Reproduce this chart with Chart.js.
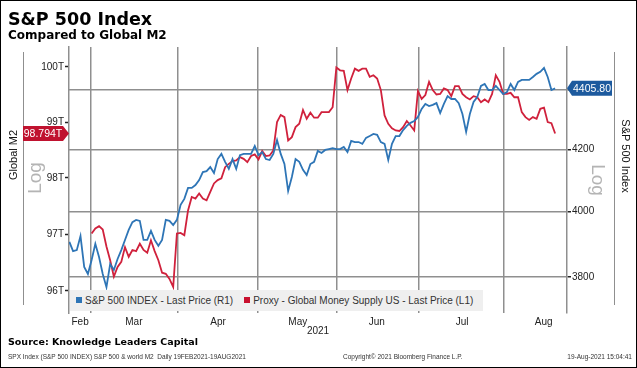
<!DOCTYPE html>
<html>
<head>
<meta charset="utf-8">
<script src="https://cdn.jsdelivr.net/npm/chart.js@4.4.1/dist/chart.umd.min.js"></script>
<style>
  body { margin: 0; background: #fff; }
  #wrap { position: relative; width: 637px; height: 368px; overflow: hidden; font-family: "Liberation Sans", Arial, sans-serif; }
  #frame { position: absolute; left: 0; top: 0; width: 637px; height: 368px; box-sizing: border-box; border: 1px solid #000; pointer-events: none; }
  canvas { position: absolute; left: 0; top: 0; }
  .t { position: absolute; white-space: nowrap; }
  #title { left: 8px; top: 11px; font: bold 17.5px/17.5px "DejaVu Sans", sans-serif; }
  #sub { left: 8px; top: 29px; font: bold 12px/12px "DejaVu Sans", sans-serif; }
  #src { left: 8px; top: 337px; font: bold 9.5px/10px "DejaVu Sans", sans-serif; }
  .foot { top: 353px; font-size: 6.5px; line-height: 7px; color: #333; }
  #year { left: 318px; top: 325px; transform: translateX(-50%); font-size: 10px; line-height: 11px; color: #222; }
  #legend { position: absolute; left: 70px; top: 290px; width: 413px; height: 21px; background: #efefef; font-size: 10px; line-height: 21px; color: #333; }
  #legend span.sq { display: inline-block; width: 6px; height: 6px; margin: 0 3px 0 0; vertical-align: 1px; }
</style>
</head>
<body>
<div id="wrap">
  <canvas id="grafico" width="637" height="368"></canvas>
  <div class="t" id="title">S&amp;P 500 Index</div>
  <div class="t" id="sub">Compared to Global M2</div>
  <div id="legend">
    <span style="margin-left:6px"></span><span class="sq" style="background:#2e75b6"></span>S&amp;P 500 INDEX - Last Price (R1)<span style="margin-left:11px"></span><span class="sq" style="background:#c8102e"></span>Proxy - Global Money Supply US - Last Price (L1)
  </div>
  <div class="t" id="year">2021</div>
  <div class="t" id="src">Source: Knowledge Leaders Capital</div>
  <div class="t foot" style="left:8px">SPX Index (S&amp;P 500 INDEX) S&amp;P 500 &amp; world M2&nbsp;&nbsp;Daily 19FEB2021-19AUG2021</div>
  <div class="t foot" style="left:343px">Copyright© 2021 Bloomberg Finance L.P.</div>
  <div class="t foot" style="right:5px">19-Aug-2021 15:04:41</div>
  <div id="frame"></div>
</div>
<script>
// S&P 500 (eje derecho), un valor por dia habil desde 19-feb-2021
const spxValues = [
  3906, 3878, 3881, 3924, 3830, 3809, 3851, 3900, 3860, 3809,
  3770, 3839, 3821, 3854, 3881, 3912, 3943, 3967, 3974, 3971,
  3912, 3912, 3940, 3912, 3894, 3912, 3974, 3971, 3958, 3974,
  4021, 4040, 4075, 4075, 4084, 4100, 4126, 4129, 4142, 4123,
  4168, 4185, 4159, 4136, 4168, 4136, 4181, 4185, 4185, 4185,
  4211, 4181, 4191, 4168, 4165, 4185, 4231, 4185, 4152, 4065,
  4110, 4168, 4159, 4133, 4116, 4152, 4159, 4195, 4188, 4198,
  4201, 4204, 4201, 4201, 4208, 4191, 4228, 4224, 4224, 4218,
  4238, 4244, 4251, 4248, 4224, 4218, 4165, 4218, 4244, 4244,
  4264, 4278, 4288, 4294, 4308, 4335, 4352, 4345, 4349, 4355,
  4321, 4352, 4379, 4369, 4369, 4355, 4318, 4258, 4318, 4359,
  4376, 4414, 4421, 4400, 4400, 4414, 4400, 4386, 4393, 4421,
  4400, 4428, 4435, 4435, 4435, 4445, 4456, 4463, 4477, 4445,
  4400, 4405.80
];

// Global M2 proxy en billones (eje izquierdo), empieza el 1-mar
const m2Values = [
  null, null, null, null, null, null, 97.01, 97.10, 97.14, 97.08,
  96.78, 96.54, 96.25, 96.42, 96.51, 96.77, 96.60, 96.72, 96.70, 96.83,
  96.72, 96.67, 96.89, 96.70, 96.54, 96.32, 96.30, 96.21, 96.07, 97.01,
  97.02, 96.98, 97.42, 97.66, 97.63, 97.72, 97.63, 97.60, 97.75, 97.90,
  97.96, 97.99, 98.19, 98.25, 98.30, 98.31, 98.37, 98.34, 98.28, 98.39,
  98.42, 98.33, 98.48, 98.39, 98.40, 98.49, 99.00, 99.13, 99.09, 98.67,
  98.73, 98.91, 98.97, 99.22, 99.06, 99.17, 99.08, 99.08, 99.18, 99.18,
  99.18, 99.27, 99.99, 99.94, 99.93, 99.58, 99.79, 99.97, 99.93, 99.97,
  99.97, 99.82, 99.85, 99.79, 99.58, 99.12, 98.97, 98.89, 98.85, 98.84,
  98.91, 99.02, 98.94, 98.85, 99.56, 99.42, 99.49, 99.73, 99.58, 99.50,
  99.51, 99.61, 99.58, 99.47, 99.65, 99.65, 99.51, 99.45, 99.41, 99.47,
  99.45, 99.36, 99.41, 99.36, 99.51, 99.85, 99.73, 99.51, 99.51, 99.53,
  99.45, 99.45, 99.18, 99.09, 99.04, 99.09, 99.06, 99.24, 99.26, 99.00,
  98.98, 98.794
];

// Eje X: meses y donde caen (en dias habiles)
const monthLabels = ['Feb', 'Mar', 'Apr', 'May', 'Jun', 'Jul', 'Aug'];
const monthLabelAt = [2.9, 17.4, 40.1, 61.6, 82.9, 105.9, 127.9];
const monthLineAt = [5.85, 29.1, 50.9, 72.2, 94.1, 117.2];

// Ticks de los ejes
const m2Ticks = [96, 97, 98, 99, 100];
const spxTicks = [3800, 4000, 4200, 4400];

const BLUE = '#2e75b6';
const RED = '#d0213c';
const GRID = '#8f8f8f';

function textoVertical(c, txt, x, y, ang, font, color) {
  c.save();
  c.translate(x, y);
  c.rotate(ang);
  c.font = font;
  c.fillStyle = color;
  c.textAlign = 'center';
  c.textBaseline = 'middle';
  c.fillText(txt, 0, 0);
  c.restore();
}

const decoracion = {
  id: 'decoracion',
  afterDraw(chart) {
    const c = chart.ctx;
    c.save();
    // lineas de los titulos de ejes
    c.strokeStyle = GRID;
    c.lineWidth = 1;
    c.beginPath();
    c.moveTo(23.5, 52); c.lineTo(23.5, 305);
    c.moveTo(614.5, 52); c.lineTo(614.5, 305);
    c.stroke();

    textoVertical(c, 'Global M2', 14, 155, -Math.PI / 2, '11px "Liberation Sans"', '#111');
    textoVertical(c, 'Log', 36, 178, -Math.PI / 2, '19px "Liberation Sans"', '#b4b4b4');
    textoVertical(c, 'S&P 500 Index', 625, 156, Math.PI / 2, '11px "Liberation Sans"', '#111');
    textoVertical(c, 'Log', 597, 180, Math.PI / 2, '19px "Liberation Sans"', '#b4b4b4');

    // banderita roja (ultimo M2)
    const lastM2 = m2Values[m2Values.length - 1];
    const ry = chart.scales.yL.getPixelForValue(lastM2);
    c.fillStyle = '#c0122f';
    c.beginPath();
    c.moveTo(23, ry - 7.5); c.lineTo(63, ry - 7.5); c.lineTo(69, ry);
    c.lineTo(63, ry + 7.5); c.lineTo(23, ry + 7.5); c.closePath();
    c.fill();
    c.fillStyle = '#fff';
    c.font = '10.5px "Liberation Sans"';
    c.textAlign = 'center';
    c.textBaseline = 'middle';
    c.fillText(lastM2.toFixed(3) + 'T', 43, ry + 0.5);

    // banderita azul (ultimo S&P)
    const lastSpx = spxValues[spxValues.length - 1];
    const by = chart.scales.yR.getPixelForValue(lastSpx);
    c.fillStyle = '#1d5a9e';
    c.beginPath();
    c.moveTo(567, by); c.lineTo(572, by - 7.5); c.lineTo(612, by - 7.5);
    c.lineTo(612, by + 7.5); c.lineTo(572, by + 7.5); c.closePath();
    c.fill();
    c.fillStyle = '#fff';
    c.fillText(lastSpx.toFixed(2), 592, by + 0.5);
    c.restore();
  }
};

const tickFont = { family: '"Liberation Sans", Arial, sans-serif', size: 10 };

new Chart(document.getElementById('grafico').getContext('2d'), {
  type: 'line',
  data: {
    datasets: [
      {
        label: 'S&P 500 INDEX - Last Price (R1)',
        data: spxValues.map((v, i) => ({ x: i, y: v })),
        yAxisID: 'yR',
        borderColor: BLUE,
        borderWidth: 1.8,
        pointRadius: 0,
        tension: 0
      },
      {
        label: 'Proxy - Global Money Supply US - Last Price (L1)',
        data: m2Values.map((v, i) => ({ x: i, y: v })),
        yAxisID: 'yL',
        borderColor: RED,
        borderWidth: 1.8,
        pointRadius: 0,
        tension: 0
      }
    ]
  },
  options: {
    responsive: false,
    animation: false,
    devicePixelRatio: 1,
    layout: { padding: { top: 47, left: 0, right: 0, bottom: 0 } },
    plugins: { legend: { display: false }, tooltip: { enabled: false } },
    scales: {
      x: {
        type: 'linear',
        bounds: 'data',
        min: -0.1,
        max: 134.2,
        afterBuildTicks: s => {
          s.ticks = monthLineAt.concat(monthLabelAt).sort((a, b) => a - b).map(v => ({ value: v }));
        },
        afterFit: s => { s.height = 55; },
        grid: {
          color: ctx => (ctx.tick && monthLineAt.includes(ctx.tick.value)) ? GRID : 'rgba(0,0,0,0)',
          lineWidth: 1.5,
          drawTicks: false
        },
        border: { display: false },
        ticks: {
          autoSkip: false,
          maxRotation: 0,
          padding: 3,
          font: tickFont,
          color: '#222',
          callback: v => {
            const k = monthLabelAt.indexOf(v);
            return k >= 0 ? monthLabels[k] : '';
          }
        }
      },
      yL: {
        type: 'logarithmic',
        position: 'left',
        bounds: 'data',
        min: 95.615,
        max: 100.365,
        afterBuildTicks: s => { s.ticks = m2Ticks.map(v => ({ value: v })); },
        afterFit: s => { s.width = 69; },
        grid: { drawOnChartArea: false, tickLength: 4, tickColor: '#222', tickWidth: 1.5 },
        border: { color: GRID, width: 1.5 },
        ticks: { autoSkip: false, padding: 1, font: tickFont, color: '#222', callback: v => v + 'T' }
      },
      yR: {
        type: 'logarithmic',
        position: 'right',
        bounds: 'data',
        min: 3694.3,
        max: 4550.8,
        afterBuildTicks: s => { s.ticks = spxTicks.map(v => ({ value: v })); },
        afterFit: s => { s.width = 70; },
        grid: { color: GRID, lineWidth: 1.5, tickLength: 4, tickColor: '#222', tickWidth: 1.5 },
        border: { color: GRID, width: 1.5 },
        ticks: { autoSkip: false, padding: 1, font: tickFont, color: '#222', callback: v => v === 4400 ? '' : String(v) }
      }
    }
  },
  plugins: [decoracion]
});
</script>
</body>
</html>
